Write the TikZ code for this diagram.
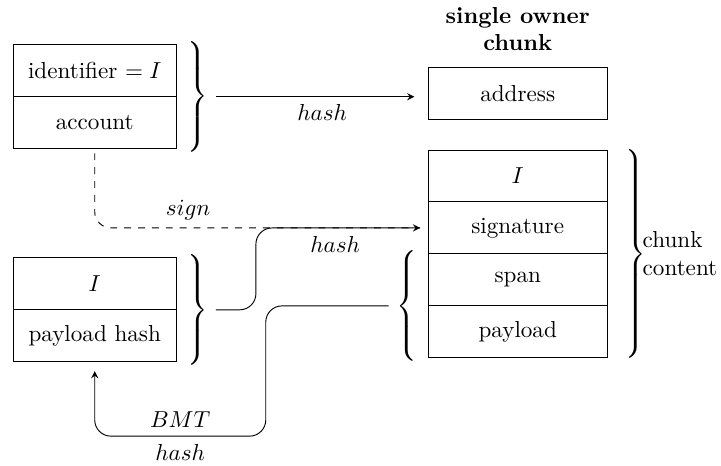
\documentclass[tikz,border=0pt]{standalone}
\usepackage{amsmath}
\usetikzlibrary{positioning}
\tikzstyle{leftField} = [draw, minimum width=2.48cm, minimum height=0.79cm, inner sep=0pt, outer sep=0pt]
\tikzstyle{rightField} = [draw, minimum width=2.72cm, minimum height=0.79cm, inner sep=0pt, outer sep=0pt]
\tikzstyle{flowLine} = [-stealth, rounded corners=7pt]
\tikzstyle{signLine} = [dashed, rounded corners=7pt]
\newcommand{\rightBrace}[1]{$\delimitershortfall=0pt\left.\vcenter{\hbox{\rule{0pt}{#1}}}\right\}$}
\newcommand{\leftBrace}[1]{$\delimitershortfall=0pt\left\{\vcenter{\hbox{\rule{0pt}{#1}}}\right.$}
\begin{document}
\begin{tikzpicture}
  \useasboundingbox (0,0) rectangle (10.96,-7.08);
  % identifier and account
  \node[leftField, anchor=north west] (ident) at (0.2,-0.68) {identifier $= I$};
  \node[leftField, below=0pt of ident] (account) {account};
  \node[anchor=west] (identBrace) at (ident.south east) {\rightBrace{43pt}};
  % identifier and payload hash
  \node[leftField, below=1.66cm of account] (ownerId) {$I$};
  \node[leftField, below=0pt of ownerId] (payloadHash) {payload hash};
  \node[anchor=west] (payloadBrace) at (ownerId.south east) {\rightBrace{43pt}};
  % the chunk
  \node[rightField, anchor=north west] (chunkId) at (6.51,-2.28) {$I$};
  \node[rightField, below=0pt of chunkId] (signature) {signature};
  \node[rightField, below=0pt of signature] (span) {span};
  \node[rightField, below=0pt of span] (payload) {payload};
  \node[rightField, above=0.46cm of chunkId] (address) {address};
  \node[font=\bfseries, align=center, above=0.13cm of address] (title) {single owner\\chunk};
  \node[anchor=east] (spanBrace) at (span.south west) {\leftBrace{43pt}};
  \node[anchor=west, xshift=3pt] (contentBrace) at (signature.south east) {\rightBrace{88pt}};
  \node[align=left, inner sep=0pt, right=-5pt of contentBrace] (contentLabel) {chunk\\content};
  % connectors
  \coordinate (hashBend) at (3.89,-4.2);
  \coordinate (bmtBend) at (4.04,-6.63);
  \draw[flowLine, shorten >=6pt] (identBrace.east) -- node[below] {$hash$} (identBrace.east -| address.west);
  \draw[signLine, shorten <=2pt, shorten >=3.5pt] (account.south) |- node[pos=0.64, above] {$sign$} (signature.west);
  \draw[flowLine, shorten >=3.5pt] (payloadBrace.east) -| (hashBend) |- node[pos=0.73, below] {$hash$} (signature.west);
  \draw[flowLine, shorten >=4pt] (spanBrace.west) -| (bmtBend) -| node[pos=0.25, above] {$BMT$} node[pos=0.25, below] {$hash$} (payloadHash.south);
\end{tikzpicture}
\end{document}
